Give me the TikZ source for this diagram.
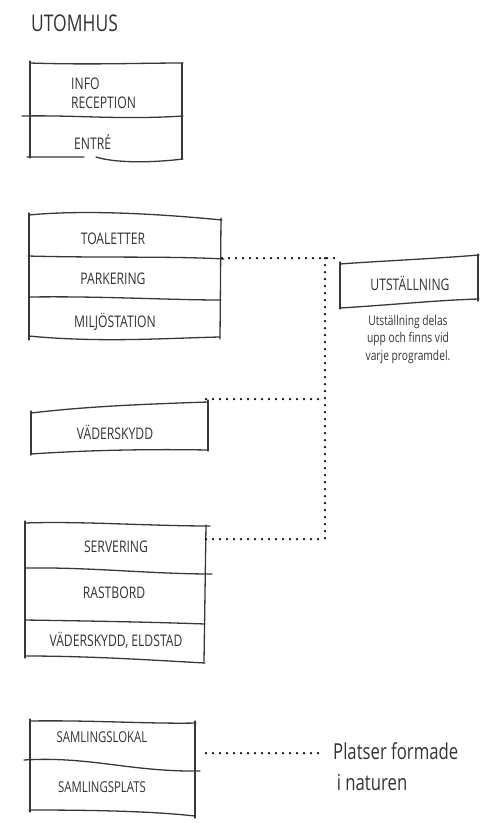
\documentclass[tikz,border=0pt]{standalone}
\usepackage{fontspec}
\setmainfont{Open Sans}[FakeStretch=0.76]
\begin{document}
\begin{tikzpicture}[x=1pt,y=-1pt,
  sketch/.style={draw=black!78,line width=1.3pt,line cap=round,line join=round},
  dots/.style={draw=black,line width=2.5pt,line cap=round,dash pattern=on 0pt off 7pt},
  lbl/.style={text=black!80,inner sep=0pt,font=\fontsize{16}{19}\selectfont},
  small/.style={text=black!80,inner sep=0pt,font=\fontsize{15}{18}\selectfont},
  big/.style={text=black!80,inner sep=0pt,font=\fontsize{23}{30}\selectfont}]
\useasboundingbox (0,0) rectangle (484,823);

% title
\node[big,anchor=west] (title) at (31,23) {UTOMHUS};

% box 1
\draw[sketch] (30,61) -- (30,158);
\draw[sketch] (30,63) .. controls (90,65) and (140,63) .. (183,63);
\draw[sketch] (182,63) -- (182,159);
\draw[sketch] (22,116) .. controls (80,115) and (120,120) .. (183,116);
\draw[sketch] (27,157) -- (84,157) (96,157) .. controls (115,163) and (150,163) .. (183,159);
\node[lbl,anchor=west,align=left] (info) at (71,93) {INFO\\RECEPTION};
\node[lbl,anchor=west] (entre) at (74,142) {ENTRÉ};

% box 2
\draw[sketch] (29,215) .. controls (80,210) and (150,213) .. (222,220);
\draw[sketch] (29,213) -- (29,340);
\draw[sketch] (221,218) -- (220,339);
\draw[sketch] (28,256) .. controls (100,258) and (170,256) .. (224,259);
\draw[sketch] (30,297) .. controls (100,296) and (170,300) .. (221,300);
\draw[sketch] (29,336) .. controls (100,343) and (170,338) .. (220,337);
\node[lbl] (toal) at (113,239) {TOALETTER};
\node[lbl] (park) at (113,279) {PARKERING};
\node[lbl] (milj) at (115,322) {MILJÖSTATION};

% UTSTÄLLNING
\draw[sketch] (340,262) -- (340,309);
\draw[sketch] (340,264) .. controls (380,261) and (430,259) .. (479,255);
\draw[sketch] (478,254) -- (478,301);
\draw[sketch] (340,308) .. controls (390,305) and (440,300) .. (479,299);
\node[lbl] (utst) at (410,283) {UTSTÄLLNING};
\node[text=black!80,inner sep=0pt,font=\fontsize{13.5}{17.5}\selectfont,align=center] (utnote) at (408,339) {Utställning delas\\upp och finns vid\\varje programdel.};

% VÄDERSKYDD
\draw[sketch] (31,411) -- (31,455);
\draw[sketch] (31,413) .. controls (90,406) and (150,404) .. (208,402);
\draw[sketch] (208,400) -- (208,451);
\draw[sketch] (31,454) .. controls (90,450) and (150,449) .. (208,450);
\node[lbl] (vader) at (115,432) {VÄDERSKYDD};

% SERVERING
\draw[sketch] (25,523) .. controls (80,521) and (150,526) .. (210,526);
\draw[sketch] (25,521) -- (25,658);
\draw[sketch] (206,525) -- (204,662);
\draw[sketch] (25,568) .. controls (90,567) and (150,574) .. (212,574);
\draw[sketch] (25,620) .. controls (90,621) and (150,622) .. (205,624);
\draw[sketch] (25,656) .. controls (90,656) and (150,660) .. (205,663);
\node[lbl] (serv) at (116,547) {SERVERING};
\node[lbl] (rast) at (114,593) {RASTBORD};
\node[lbl] (vaeld) at (116,640) {VÄDERSKYDD, ELDSTAD};

% SAMLING
\draw[sketch] (30,719) -- (30,812);
\draw[sketch] (30,721) .. controls (90,720) and (150,724) .. (196,723);
\draw[sketch] (195,721) -- (195,818);
\draw[sketch] (24,760) .. controls (90,756) and (130,772) .. (200,771);
\draw[sketch] (29,810) .. controls (90,810) and (150,811) .. (195,816);
\node[small] (slok) at (102,737) {SAMLINGSLOKAL};
\node[small] (splats) at (102,787) {SAMLINGSPLATS};
\node[big,anchor=west,align=left,font=\fontsize{22}{31}\selectfont] (plats) at (333,767) {Platser formade\\\,i naturen};

% connectors
\coordinate (a1) at (222,258);
\coordinate (a2) at (325,258);
\coordinate (a3) at (336,258);
\coordinate (b1) at (206,399);
\coordinate (b2) at (325,399);
\coordinate (c1) at (206,539);
\coordinate (c2) at (325,539);
\coordinate (d1) at (206,753);
\coordinate (d2) at (321,753);
\draw[dots] (a1) -- (a3);
\draw[dots] (a2) -- (c2);
\draw[dots] (b1) -- (b2);
\draw[dots] (c1) -- (c2);
\draw[dots] (d1) -- (d2);
\end{tikzpicture}
\end{document}
